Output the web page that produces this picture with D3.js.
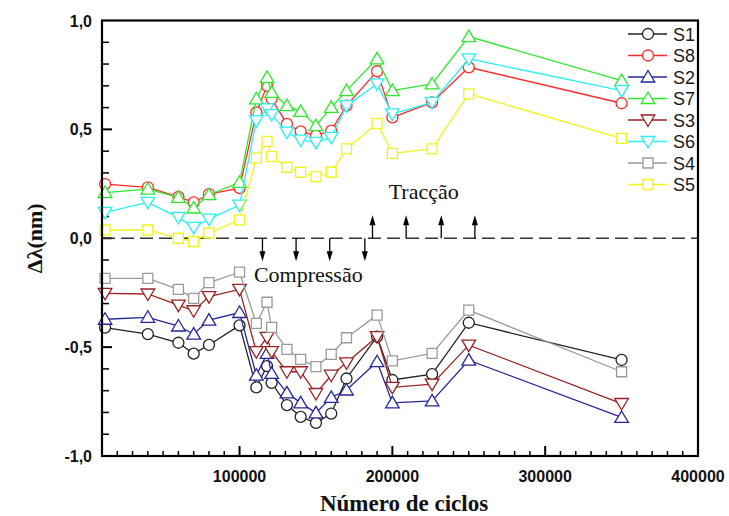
<!DOCTYPE html>
<html>
<head>
<meta charset="utf-8">
<script src="https://cdn.jsdelivr.net/npm/d3@7/dist/d3.min.js"></script>
<style>
  html, body { margin: 0; padding: 0; background: #fff; }
  svg { display: block; }
</style>
</head>
<body>
<svg id="chart" width="729" height="516"></svg>
<script>
// Number of load cycles at each measurement
const cycles = [12000, 40000, 60000, 70000, 80000, 100000, 111000, 118000, 121000, 131000,
                140000, 150000, 160000, 170000, 190000, 200000, 226000, 250000, 350000];

// Wavelength shift Δλ (nm) for each sensor
const s1 = [-0.41, -0.44, -0.48, -0.53, -0.49, -0.40, -0.685, -0.587, -0.664, -0.766,
            -0.82, -0.848, -0.805, -0.644, -0.452, -0.651, -0.624, -0.388, -0.559];
const s8 = [0.249, 0.234, 0.19, 0.165, 0.203, 0.23, 0.578, 0.70, 0.64, 0.525,
            0.491, 0.471, 0.494, 0.609, 0.767, 0.555, 0.624, 0.785, 0.62];
const s2 = [-0.372, -0.363, -0.403, -0.44, -0.376, -0.341, -0.629, -0.529, -0.621, -0.71,
            -0.756, -0.802, -0.731, -0.697, -0.567, -0.756, -0.747, -0.56, -0.823];
const s7 = [0.21, 0.226, 0.188, 0.139, 0.20, 0.257, 0.64, 0.739, 0.67, 0.609,
            0.583, 0.517, 0.601, 0.678, 0.824, 0.678, 0.709, 0.926, 0.724];
const s3 = [-0.253, -0.256, -0.307, -0.333, -0.268, -0.235, -0.521, -0.455, -0.521, -0.613,
            -0.613, -0.713, -0.629, -0.572, -0.452, -0.685, -0.67, -0.491, -0.759];
const s6 = [0.119, 0.165, 0.096, 0.05, 0.088, 0.152, 0.54, 0.594, 0.568, 0.487,
            0.451, 0.44, 0.463, 0.609, 0.709, 0.571, 0.624, 0.824, 0.678];
const s4 = [-0.184, -0.184, -0.235, -0.276, -0.204, -0.156, -0.391, -0.294, -0.409, -0.51,
            -0.556, -0.59, -0.533, -0.457, -0.353, -0.563, -0.529, -0.33, -0.613];
const s5 = [0.038, 0.038, 0.0, -0.015, 0.024, 0.084, 0.369, 0.445, 0.375, 0.326,
            0.303, 0.283, 0.303, 0.41, 0.528, 0.39, 0.41, 0.663, 0.459];

const seriesNames = ["S1", "S8", "S2", "S7", "S3", "S6", "S4", "S5"];
const seriesValues = [s1, s8, s2, s7, s3, s6, s4, s5];
const seriesColors = ["#222222", "#ff2a2a", "#26269a", "#2ee82e", "#9a2222", "#2af0f0", "#9a9a9a", "#f2f21c"];
const seriesSymbols = ["circle", "circle", "triUp", "triUp", "triDown", "triDown", "square", "square"];

// Axis ticks
const xTickValues = [100000, 200000, 300000, 400000];
const yTickValues = [-1.0, -0.5, 0.0, 0.5, 1.0];

// Load direction markers (cycles)
const compressionCycles = [115000, 137000, 159000, 182000];
const tractionCycles = [187000, 209000, 232000, 254000];

const svg = d3.select("#chart");
const plotLeft = 102, plotRight = 698, plotTop = 20.5, plotBottom = 456;

const x = d3.scaleLinear().domain([10000, 400000]).range([plotLeft, plotRight]);
const y = d3.scaleLinear().domain([-1, 1]).range([plotBottom, plotTop]);

const sansFont = "'Liberation Sans', Arial, sans-serif";
const serifFont = "'Liberation Serif', 'Times New Roman', serif";

// Symbol path generators centred at 0,0
function symbolPath(kind) {
  switch (kind) {
    case "circle": return "M5.5,0A5.5,5.5 0 1,1 -5.5,0A5.5,5.5 0 1,1 5.5,0Z";
    case "square": return "M-5,-5H5V5H-5Z";
    case "triUp": return "M0,-6.5L6.8,5L-6.8,5Z";
    case "triDown": return "M0,6.5L6.8,-5L-6.8,-5Z";
  }
}

// Minor ticks (inward)
const xMinor = d3.range(20000, 400000, 10000).filter(v => v % 100000 !== 0);
const yMinor = d3.range(-9, 10).map(v => v / 10).filter(v => Math.round(Math.abs(v * 10)) % 5 !== 0);

const axisG = svg.append("g");
axisG.selectAll("line.xminor").data(xMinor).join("line")
  .attr("x1", d => x(d)).attr("x2", d => x(d))
  .attr("y1", plotBottom).attr("y2", plotBottom - 5)
  .attr("stroke", "#000").attr("stroke-width", 1.5);
axisG.selectAll("line.xmajor").data(xTickValues.filter(v => v < 400000)).join("line")
  .attr("x1", d => x(d)).attr("x2", d => x(d))
  .attr("y1", plotBottom).attr("y2", plotBottom - 10)
  .attr("stroke", "#000").attr("stroke-width", 2);
axisG.selectAll("line.yminor").data(yMinor).join("line")
  .attr("x1", plotLeft).attr("x2", plotLeft + 7)
  .attr("y1", d => y(d)).attr("y2", d => y(d))
  .attr("stroke", "#000").attr("stroke-width", 1.5);
axisG.selectAll("line.ymajor").data([-0.5, 0, 0.5]).join("line")
  .attr("x1", plotLeft).attr("x2", plotLeft + 10)
  .attr("y1", d => y(d)).attr("y2", d => y(d))
  .attr("stroke", "#000").attr("stroke-width", 2);

// Tick labels
svg.append("g").selectAll("text").data(xTickValues).join("text")
  .attr("x", d => x(d)).attr("y", plotBottom + 26)
  .attr("text-anchor", "middle")
  .attr("font-family", sansFont).attr("font-weight", "bold").attr("font-size", 16)
  .attr("fill", "#111")
  .text(d => d3.format("d")(d));

svg.append("g").selectAll("text").data(yTickValues).join("text")
  .attr("x", plotLeft - 10).attr("y", d => y(d) + 6)
  .attr("text-anchor", "end")
  .attr("font-family", sansFont).attr("font-weight", "bold").attr("font-size", 16)
  .attr("fill", "#111")
  .text(d => d3.format(".1f")(d).replace(".", ",").replace("−", "-"));

// Zero reference line
svg.append("line")
  .attr("x1", plotLeft).attr("x2", plotRight)
  .attr("y1", y(0)).attr("y2", y(0))
  .attr("stroke", "#333").attr("stroke-width", 1.6)
  .attr("stroke-dasharray", "13,6");

// Load direction arrows
function arrow(g, cx, y0, y1) {
  const dir = y1 > y0 ? 1 : -1;
  g.append("line").attr("x1", cx).attr("x2", cx).attr("y1", y0).attr("y2", y1 - dir * 8)
    .attr("stroke", "#000").attr("stroke-width", 1.3);
  g.append("path")
    .attr("d", `M${cx},${y1}L${cx - 3},${y1 - dir * 10}L${cx + 3},${y1 - dir * 10}Z`)
    .attr("fill", "#000");
}
const arrowG = svg.append("g");
compressionCycles.forEach(c => arrow(arrowG, x(c), y(0), y(0) + 23));
tractionCycles.forEach(c => arrow(arrowG, x(c), y(0), y(0) - 23));

arrowG.append("text")
  .attr("x", d3.mean(tractionCycles, c => x(c)))
  .attr("y", y(0) - 39)
  .attr("text-anchor", "middle")
  .attr("font-family", serifFont).attr("font-size", 22).attr("fill", "#111")
  .text("Tracção");
arrowG.append("text")
  .attr("x", d3.mean(compressionCycles, c => x(c)) - 5)
  .attr("y", y(0) + 44)
  .attr("text-anchor", "middle")
  .attr("font-family", serifFont).attr("font-size", 22).attr("fill", "#111")
  .text("Compressão");

// Series lines and symbols
const line = d3.line().x((d, i) => x(cycles[i])).y(d => y(d));
const plotG = svg.append("g");
seriesValues.forEach((vals, k) => {
  const g = plotG.append("g");
  g.append("path").datum(vals)
    .attr("d", line)
    .attr("fill", "none")
    .attr("stroke", seriesColors[k])
    .attr("stroke-width", 1.3);
  g.selectAll("path.sym").data(vals).join("path")
    .attr("class", "sym")
    .attr("transform", (d, i) => `translate(${x(cycles[i])},${y(d)})`)
    .attr("d", symbolPath(seriesSymbols[k]))
    .attr("fill", "#fff")
    .attr("stroke", seriesColors[k])
    .attr("stroke-width", 1.3);
});

// Frame
svg.append("rect")
  .attr("x", plotLeft).attr("y", plotTop)
  .attr("width", plotRight - plotLeft).attr("height", plotBottom - plotTop)
  .attr("fill", "none").attr("stroke", "#000").attr("stroke-width", 2.2);

// Legend
const legend = svg.append("g");
seriesNames.forEach((name, k) => {
  const ly = 34 + k * 21.5;
  legend.append("line")
    .attr("x1", 628).attr("x2", 667).attr("y1", ly).attr("y2", ly)
    .attr("stroke", seriesColors[k]).attr("stroke-width", 1.3);
  legend.append("path")
    .attr("transform", `translate(648,${ly})`)
    .attr("d", symbolPath(seriesSymbols[k]))
    .attr("fill", "#fff")
    .attr("stroke", seriesColors[k]).attr("stroke-width", 1.3);
  legend.append("text")
    .attr("x", 673).attr("y", ly + 6.5)
    .attr("font-family", sansFont).attr("font-size", 18).attr("fill", "#1a1a1a")
    .text(name);
});

// Axis titles
svg.append("text")
  .attr("x", (plotLeft + plotRight) / 2 + 4).attr("y", 511)
  .attr("text-anchor", "middle")
  .attr("font-family", serifFont).attr("font-weight", "bold").attr("font-size", 23)
  .attr("fill", "#111")
  .text("Número de ciclos");

svg.append("text")
  .attr("transform", `translate(42,${y(0)}) rotate(-90)`)
  .attr("text-anchor", "middle")
  .attr("font-family", serifFont).attr("font-weight", "bold").attr("font-size", 22)
  .attr("fill", "#111")
  .text("Δλ(nm)");
</script>
</body>
</html>
